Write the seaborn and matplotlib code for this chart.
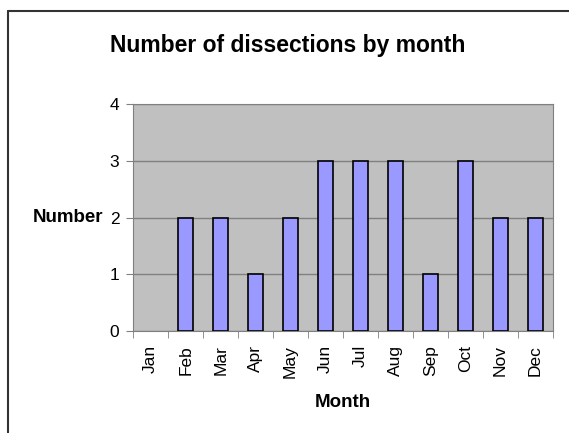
import pandas as pd
import numpy as np
import matplotlib
matplotlib.use('Agg')
import matplotlib.pyplot as plt
import seaborn as sns

## data
months = ['Jan', 'Feb', 'Mar', 'Apr', 'May', 'Jun', 'Jul', 'Aug', 'Sep', 'Oct', 'Nov', 'Dec']
counts = [0, 2, 2, 1, 2, 3, 3, 3, 1, 3, 2, 2]

df = pd.DataFrame({'Month': months, 'Number': counts})

sns.set_style('white')
plt.rcParams['font.family'] = ['Liberation Sans', 'DejaVu Sans']
plt.rcParams['text.color'] = 'black'
plt.rcParams['xtick.color'] = 'black'
plt.rcParams['ytick.color'] = 'black'
plt.rcParams['axes.labelcolor'] = 'black'

fig = plt.figure(figsize=(5.69, 4.33), dpi=100)
ax = fig.add_axes([0.234, 0.2356, 0.738, 0.524])

sns.barplot(data=df, x='Month', y='Number', order=months, color='#9999FF',
            saturation=1, width=0.42, edgecolor='black', linewidth=1.2, ax=ax, zorder=3)

## no outline for empty months
for p in ax.patches:
    if p.get_height() == 0:
        p.set_linewidth(0)

## Excel-like plot area
ax.set_facecolor('#C0C0C0')
ax.set_ylim(0, 4)
ax.set_xlim(-0.5, 11.5)
ax.set_yticks([0, 1, 2, 3, 4])
ax.yaxis.grid(True, color='#808080', linewidth=1, zorder=0)
ax.set_axisbelow(True)
for s in ['top', 'right', 'left', 'bottom']:
    ax.spines[s].set_color('#808080')

ax.set_xticks(np.arange(12))
ax.set_xticklabels(months, rotation=90, fontsize=12.5)
ax.set_xticks(np.arange(-0.5, 12, 1), minor=True)
ax.tick_params(axis='x', which='major', length=0, pad=10)
ax.tick_params(axis='x', which='minor', length=5, color='#808080', direction='out')
ax.tick_params(axis='y', length=5, color='#808080', labelcolor='black', direction='out',
               labelsize=12.5, pad=5)
ax.yaxis.set_ticks_position('left')
ax.xaxis.set_ticks_position('bottom')

ax.set_xlabel('Month', fontsize=13.5, fontweight='bold', labelpad=12)
ax.set_ylabel('Number', fontsize=13.5, fontweight='bold', rotation=0, ha='right', va='center')
ax.yaxis.set_label_coords(-0.072, 0.5)

fig.text(0.505, 0.895, 'Number of dissections by month', ha='center', va='center',
         fontsize=16.5, fontweight='bold')

## chart border (cut at right and bottom)
fig.add_artist(plt.Line2D([8/569, 8/569], [0, 1 - 11/433], color='#333333', linewidth=1.5))
fig.add_artist(plt.Line2D([8/569, 1], [1 - 11/433, 1 - 11/433], color='#333333', linewidth=1.5))

plt.savefig('out.png', dpi=100)
